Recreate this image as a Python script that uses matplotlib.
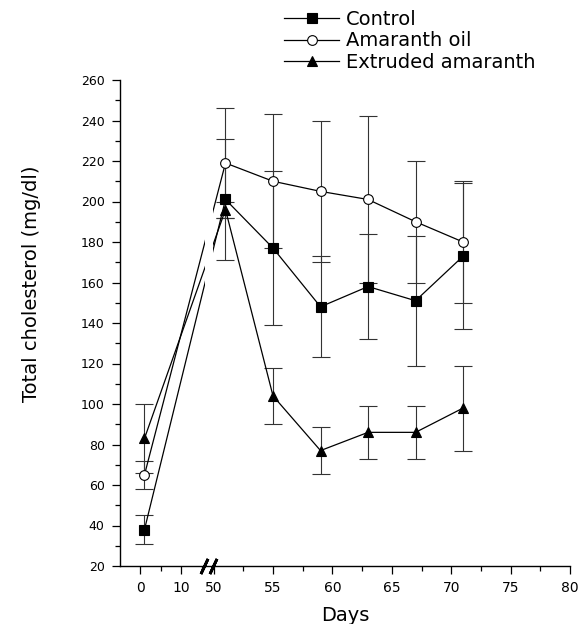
import numpy as np
import matplotlib
matplotlib.use("Agg")
import matplotlib.pyplot as plt
from matplotlib.ticker import FixedLocator

plt.rcParams.update({
    "font.family": ["DejaVu Sans"],
    "font.size": 10,
    "xtick.labelsize": 10,
    "ytick.labelsize": 9,
})

# ===============================
# DATA (mean +/- SD)
# ===============================
days = [1, 51, 55, 59, 63, 67, 71]

control_mean = [38, 201, 177, 148, 158, 151, 173]
control_sd = [7, 30, 38, 25, 26, 32, 36]

oil_mean = [65, 219, 210, 205, 201, 190, 180]
oil_sd = [7, 27, 33, 35, 41, 30, 30]

extruded_mean = [83, 196, 104, 77, 86, 86, 98]
extruded_sd = [17, 4, 14, 11.5, 13, 13, 21]

x_major = [0, 10, 50, 55, 60, 65, 70, 75, 80]
x_minor = [5, 15, 52.5, 57.5, 62.5, 67.5, 72.5, 77.5]

# ===============================
# BROKEN X SCALE (days 15..50 squeezed)
# ===============================
knot_day = np.array([-5.0, 15.0, 50.0, 80.0])
knot_pos = np.array([120.5, 202.0, 214.0, 570.0])


def fwd(d):
    d = np.asarray(d, dtype=float)
    out = np.interp(d, knot_day, knot_pos)
    s0 = (knot_pos[1] - knot_pos[0]) / (knot_day[1] - knot_day[0])
    s1 = (knot_pos[-1] - knot_pos[-2]) / (knot_day[-1] - knot_day[-2])
    out = np.where(d < knot_day[0], knot_pos[0] + (d - knot_day[0]) * s0, out)
    out = np.where(d > knot_day[-1], knot_pos[-1] + (d - knot_day[-1]) * s1, out)
    return out


def inv(p):
    p = np.asarray(p, dtype=float)
    out = np.interp(p, knot_pos, knot_day)
    s0 = (knot_day[1] - knot_day[0]) / (knot_pos[1] - knot_pos[0])
    s1 = (knot_day[-1] - knot_day[-2]) / (knot_pos[-1] - knot_pos[-2])
    out = np.where(p < knot_pos[0], knot_day[0] + (p - knot_pos[0]) * s0, out)
    out = np.where(p > knot_pos[-1], knot_day[-1] + (p - knot_pos[-1]) * s1, out)
    return out


fig = plt.figure(figsize=(5.78, 6.24), dpi=100)
ax = fig.add_axes([120 / 578, 58 / 624, 450 / 578, 486 / 624])
ax.set_xscale("function", functions=(fwd, inv))

series = [
    ("Control", control_mean, control_sd, "s", "black", 6.5),
    ("Amaranth oil", oil_mean, oil_sd, "o", "white", 7),
    ("Extruded amaranth", extruded_mean, extruded_sd, "^", "black", 7.5),
]

handles = []
for name, m, sd, mk, fc, ms in series:
    ax.errorbar(days, m, yerr=sd, fmt="none", ecolor="0.2",
                elinewidth=0.8, capsize=6.5, capthick=0.8, zorder=2)
    ln, = ax.plot(days, m, color="black", linewidth=0.9, marker=mk,
                  markersize=ms, markerfacecolor=fc,
                  markeredgecolor="black", markeredgewidth=0.8,
                  label=name, zorder=2.5)
    handles.append(ln)

# gap in the connecting lines at the axis break
ax.axvspan(24, 47, ymin=0.01, ymax=1, color="white", zorder=3, linewidth=0)

# break marks on the x axis
for c in [21, 48]:
    ax.plot([c], [0], transform=ax.get_xaxis_transform(), marker=(2, 2, -25),
            markersize=12, markeredgewidth=2.0, color="black",
            clip_on=False, zorder=5)

ax.set_xlim(-5, 80)
ax.set_ylim(20, 260)
ax.xaxis.set_major_locator(FixedLocator(x_major))
ax.xaxis.set_minor_locator(FixedLocator(x_minor))
ax.set_xticklabels([str(v) for v in x_major])
ax.set_yticks(np.arange(20, 261, 20))
ax.set_yticks(np.arange(30, 260, 20), minor=True)

for s in ["top", "right"]:
    ax.spines[s].set_visible(False)
ax.spines["left"].set_linewidth(1.0)
ax.spines["bottom"].set_linewidth(1.0)

ax.tick_params(which="major", length=6, width=0.9, direction="out")
ax.tick_params(which="minor", length=3.5, width=0.9, direction="out")
ax.tick_params(axis="x", pad=5)
ax.tick_params(axis="y", pad=5)

ax.set_xlabel("Days", fontsize=14, labelpad=8)
ax.set_ylabel("Total cholesterol (mg/dl)", fontsize=14)
ax.yaxis.set_label_coords(-0.175, 0.58)

fig.legend(handles=handles, loc="upper left",
           bbox_to_anchor=(284 / 578, 1 - 10 / 624),
           frameon=False, fontsize=14, numpoints=1, handlelength=2.85,
           handletextpad=0.35, labelspacing=0.12, borderpad=0,
           borderaxespad=0)

plt.savefig("out.png", dpi=100)
